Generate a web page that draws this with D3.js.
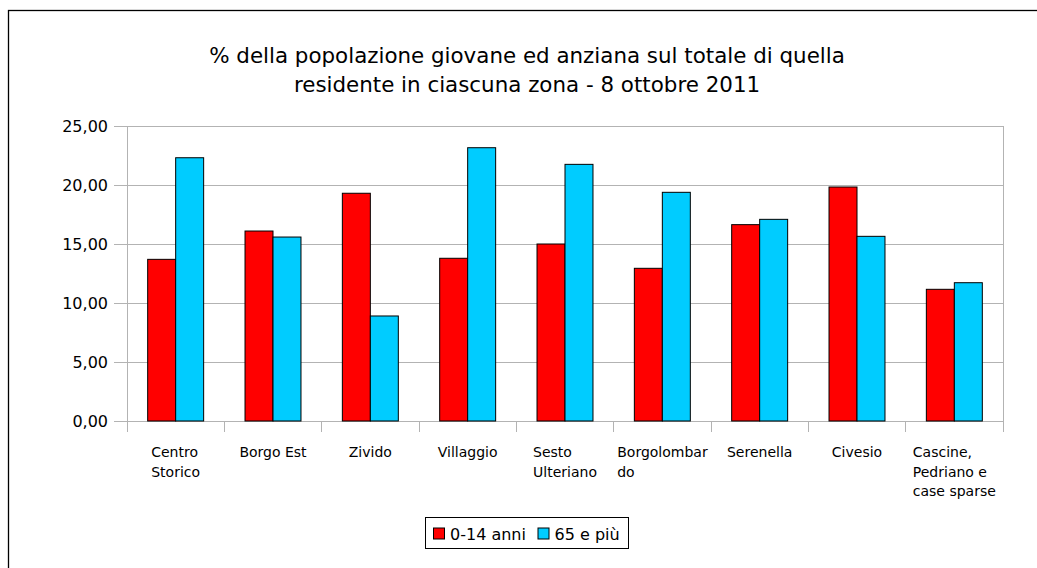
<!DOCTYPE html>
<html>
<head>
<meta charset="utf-8">
<script src="https://cdn.jsdelivr.net/npm/d3@7"></script>
<style>
  html, body { margin: 0; padding: 0; background: #fff; }
  svg { display: block; font-family: "DejaVu Sans", Verdana, sans-serif; }
</style>
</head>
<body>
<svg id="chart" width="1037" height="568"></svg>
<script>
// ── Data ───────────────────────────────────────────────────────────────────
const titleLines = [
  '% della popolazione giovane ed anziana sul totale di quella',
  'residente in ciascuna zona - 8 ottobre 2011'
];
const categories = ['Centro Storico', 'Borgo Est', 'Zivido', 'Villaggio', 'Sesto Ulteriano',
                    'Borgolombardo', 'Serenella', 'Civesio', 'Cascine, Pedriano e case sparse'];
const categoryLines = [
  ['Centro', 'Storico'], ['Borgo Est'], ['Zivido'], ['Villaggio'], ['Sesto', 'Ulteriano'],
  ['Borgolombar', 'do'], ['Serenella'], ['Civesio'], ['Cascine,', 'Pedriano e', 'case sparse']
];
const seriesNames  = ['0-14 anni', '65 e più'];
const seriesColors = ['#ff0000', '#00ccff'];
const young = [13.70, 16.10, 19.30, 13.79, 15.00, 12.94, 16.64, 19.83, 11.16];
const old   = [22.31, 15.59, 8.90, 23.16, 21.75, 19.38, 17.09, 15.65, 11.72];
const yTicks = [0, 5, 10, 15, 20, 25];

// ── Layout ─────────────────────────────────────────────────────────────────
const plot = { left: 127, right: 1003, top: 126, bottom: 421 };
const gridColor = '#b3b3b3';
const fmt = v => v.toFixed(2).replace('.', ',');

const svg = d3.select('#chart');

// outer frame (runs off the right/bottom edges)
svg.append('rect')
  .attr('x', 8.5).attr('y', 10.5).attr('width', 1100).attr('height', 700)
  .attr('fill', 'none').attr('stroke', '#000').attr('stroke-width', 1.3);

// title
svg.append('text')
  .attr('x', 527).attr('y', 63)
  .attr('text-anchor', 'middle').attr('font-size', 21.4).attr('fill', '#000')
  .selectAll('tspan').data(titleLines).join('tspan')
  .attr('x', 527).attr('dy', (d, i) => i === 0 ? 0 : 29)
  .text(d => d);

const y = d3.scaleLinear().domain([0, 25]).range([plot.bottom, plot.top]);
const x0 = d3.scaleBand().domain(categories).range([plot.left, plot.right])
  .paddingInner(0.425).paddingOuter(0.2125);
const x1 = d3.scaleBand().domain(seriesNames).range([0, x0.bandwidth()]);

// gridlines
svg.append('g')
  .attr('transform', `translate(${plot.left},0)`)
  .call(d3.axisLeft(y).tickValues(yTicks).tickSize(-(plot.right - plot.left)).tickFormat(''))
  .call(g => g.select('.domain').remove())
  .call(g => g.selectAll('line').attr('stroke', gridColor).attr('shape-rendering', 'crispEdges'));

// right border of plot area
svg.append('line')
  .attr('x1', plot.right).attr('x2', plot.right).attr('y1', plot.top).attr('y2', plot.bottom + 11)
  .attr('stroke', gridColor).attr('shape-rendering', 'crispEdges');

// y axis
svg.append('g')
  .attr('transform', `translate(${plot.left},0)`)
  .call(d3.axisLeft(y).tickValues(yTicks).tickSize(13).tickPadding(6).tickFormat(fmt))
  .call(g => g.select('.domain').attr('stroke', gridColor).attr('shape-rendering', 'crispEdges'))
  .call(g => g.selectAll('line').attr('stroke', gridColor).attr('shape-rendering', 'crispEdges'))
  .call(g => g.selectAll('text').attr('font-size', 16).attr('fill', '#000')
    .attr('font-family', '"DejaVu Sans", Verdana, sans-serif'));

// x axis: ticks at category boundaries
const boundaries = d3.range(categories.length + 1).map(i => plot.left + i * x0.step());
svg.append('line')
  .attr('x1', plot.left).attr('x2', plot.right).attr('y1', plot.bottom).attr('y2', plot.bottom)
  .attr('stroke', gridColor).attr('shape-rendering', 'crispEdges');
svg.append('g').selectAll('line').data(boundaries).join('line')
  .attr('x1', d => d).attr('x2', d => d)
  .attr('y1', plot.bottom).attr('y2', plot.bottom + 11)
  .attr('stroke', gridColor).attr('shape-rendering', 'crispEdges');

// bars
const rows = categories.map((c, i) => ({ cat: c, vals: [young[i], old[i]] }));
svg.append('g').selectAll('g').data(rows).join('g')
  .attr('transform', d => `translate(${x0(d.cat)},0)`)
  .selectAll('rect').data(d => d.vals.map((v, j) => ({ v, s: seriesNames[j], c: seriesColors[j] })))
  .join('rect')
  .attr('x', d => x1(d.s)).attr('width', x1.bandwidth())
  .attr('y', d => y(d.v)).attr('height', d => y(0) - y(d.v))
  .attr('fill', d => d.c).attr('stroke', '#000').attr('stroke-width', 1);

// category labels: block centred, lines left-aligned
const labelG = svg.append('g').attr('font-size', 14).attr('fill', '#000');
categories.forEach((c, i) => {
  const cx = x0(c) + x0.bandwidth() / 2;
  const t = labelG.append('text').attr('y', 457);
  t.selectAll('tspan').data(categoryLines[i]).join('tspan')
    .attr('dy', (d, k) => k === 0 ? 0 : 19.7)
    .text(d => d);
  const w = d3.max(t.selectAll('tspan').nodes(), n => n.getComputedTextLength());
  t.selectAll('tspan').attr('x', cx - w / 2);
});

// legend
const leg = svg.append('g');
leg.append('rect')
  .attr('x', 425.5).attr('y', 517.5).attr('width', 203).attr('height', 31)
  .attr('fill', '#fff').attr('stroke', '#000').attr('stroke-width', 1);
const legX = [433.5, 538];
seriesNames.forEach((s, i) => {
  leg.append('rect')
    .attr('x', legX[i]).attr('y', 528).attr('width', 11).attr('height', 11)
    .attr('fill', seriesColors[i]).attr('stroke', '#000').attr('stroke-width', 1);
  leg.append('text')
    .attr('x', legX[i] + 16.5).attr('y', 539.5)
    .attr('font-size', 16).attr('fill', '#000')
    .text(s);
});
</script>
</body>
</html>
